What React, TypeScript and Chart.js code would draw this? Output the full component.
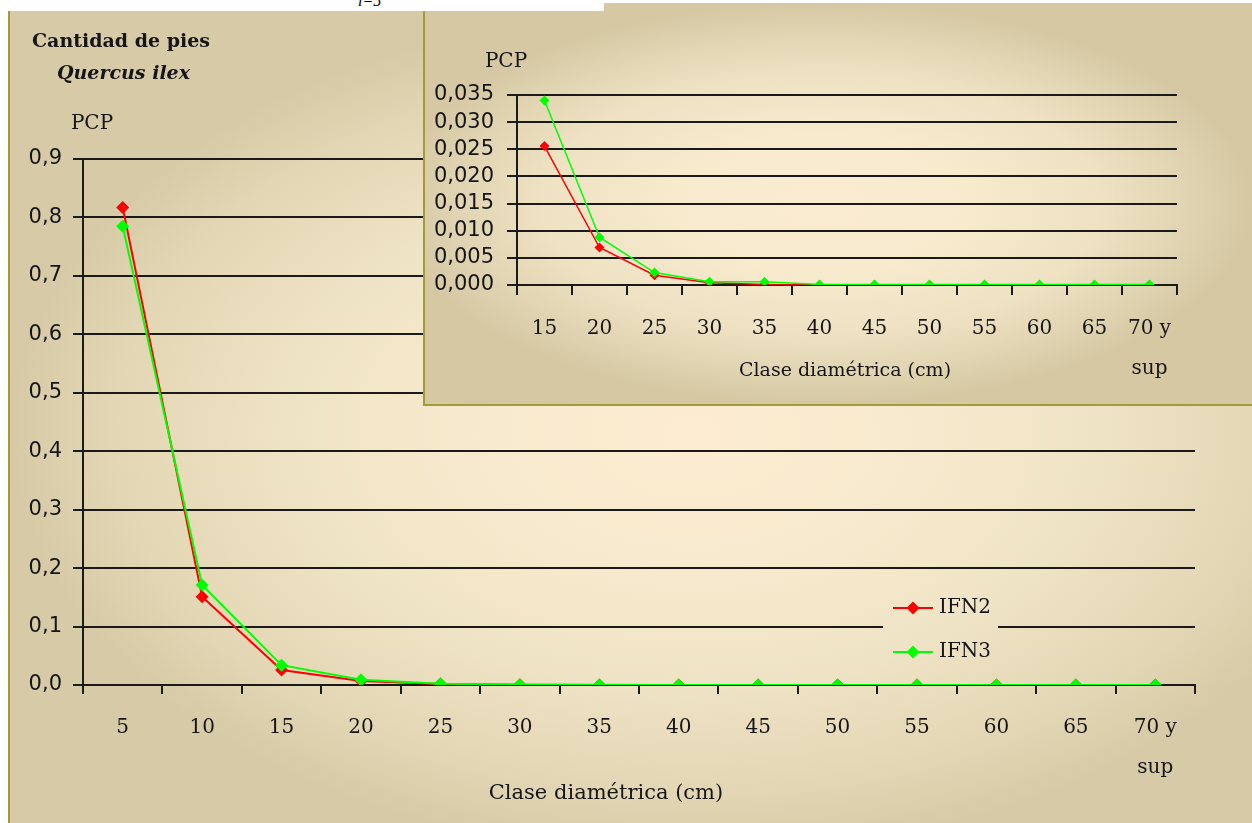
import React, { useEffect, useRef } from "react";
import { Chart, registerables } from "chart.js";

Chart.register(...registerables);

// ---------- data ----------
const categories: (string | string[])[] = [
  "5", "10", "15", "20", "25", "30", "35", "40", "45", "50", "55", "60", "65", ["70 y", "sup"],
];
const seriesNames = ["IFN2", "IFN3"];
const seriesColors = ["#ff0000", "#00ff00"];
const ifn2 = [0.817, 0.151, 0.0256, 0.0069, 0.0018, 0.0004, 0.0001, 0, 0, 0, 0, 0, 0, 0];
const ifn3 = [0.785, 0.171, 0.034, 0.0088, 0.0023, 0.0006, 0.0006, 0.0001, 0.0001, 0.0001, 0.0001, 0.0001, 0.0001, 0.0001];

// inset shows the classes from 15 cm upward
const insetStart = 2;
const insetCategories = categories.slice(insetStart);
const insetIfn2 = ifn2.slice(insetStart);
const insetIfn3 = ifn3.slice(insetStart);

const mainYTicks = [0, 0.1, 0.2, 0.3, 0.4, 0.5, 0.6, 0.7, 0.8, 0.9];
const mainYTickLabels = ["0,0", "0,1", "0,2", "0,3", "0,4", "0,5", "0,6", "0,7", "0,8", "0,9"];
const insetYTicks = [0, 0.005, 0.01, 0.015, 0.02, 0.025, 0.03, 0.035];
const insetYTickLabels = ["0,000", "0,005", "0,010", "0,015", "0,020", "0,025", "0,030", "0,035"];

const titleLine1 = "Cantidad de pies";
const titleLine2 = "Quercus ilex";
const yAxisTitle = "PCP";
const xAxisTitle = "Clase diamétrica (cm)";
const cutFormula = "i=5";

// ---------- styling helpers ----------
const SERIF = "'DejaVu Serif', serif";
const SANS = "'DejaVu Sans', sans-serif";
const INK = "#151515";
const GRID = "#1a1a1a";

type TextItem = { text: string; x: number; y: number; font: string; align: CanvasTextAlign };

function textPlugin(id: string, items: TextItem[]) {
  return {
    id,
    afterDraw(chart: any) {
      const ctx = chart.ctx as CanvasRenderingContext2D;
      ctx.save();
      ctx.fillStyle = INK;
      ctx.textBaseline = "middle";
      for (const it of items) {
        ctx.font = it.font;
        ctx.textAlign = it.align;
        ctx.fillText(it.text, it.x, it.y);
      }
      ctx.restore();
    },
  };
}

function legendPlugin(cfg: {
  box: { x: number; y: number; w: number; h: number };
  x0: number; y0: number; dy: number; len: number; r: number; gap: number; font: string;
}) {
  return {
    id: "boxLegend",
    afterDraw(chart: any) {
      const ctx = chart.ctx as CanvasRenderingContext2D;
      ctx.save();
      ctx.clearRect(cfg.box.x, cfg.box.y, cfg.box.w, cfg.box.h);
      chart.data.datasets.forEach((ds: any, i: number) => {
        const y = cfg.y0 + i * cfg.dy;
        ctx.strokeStyle = ds.borderColor;
        ctx.lineWidth = 2;
        ctx.beginPath();
        ctx.moveTo(cfg.x0, y);
        ctx.lineTo(cfg.x0 + cfg.len, y);
        ctx.stroke();
        const cx = cfg.x0 + cfg.len / 2;
        ctx.fillStyle = ds.borderColor;
        ctx.beginPath();
        ctx.moveTo(cx - cfg.r, y);
        ctx.lineTo(cx, y - cfg.r);
        ctx.lineTo(cx + cfg.r, y);
        ctx.lineTo(cx, y + cfg.r);
        ctx.closePath();
        ctx.fill();
        ctx.fillStyle = INK;
        ctx.font = cfg.font;
        ctx.textAlign = "left";
        ctx.textBaseline = "middle";
        ctx.fillText(ds.label, cfg.x0 + cfg.len + cfg.gap, y);
      });
      ctx.restore();
    },
  };
}

function makeDatasets(a: number[], b: number[], radius: number, width: number) {
  return [a, b].map((data, i) => ({
    label: seriesNames[i],
    data,
    borderColor: seriesColors[i],
    backgroundColor: seriesColors[i],
    borderWidth: width,
    pointStyle: "rectRot" as const,
    pointRadius: radius,
    pointBorderWidth: 0,
    pointBackgroundColor: seriesColors[i],
    tension: 0,
    order: i === 0 ? 1 : 0,
  }));
}

function makeOptions(p: {
  padTop: number; padRight: number; yWidth: number; xHeight: number;
  yTicks: number[]; yLabels: string[]; yPad: number; xPad: number; xTickLen: number;
}): any {
  return {
    animation: false,
    responsive: false,
    events: [],
    layout: { padding: { top: p.padTop, right: p.padRight, left: 0, bottom: 0 } },
    plugins: { legend: { display: false }, tooltip: { enabled: false }, title: { display: false } },
    scales: {
      x: {
        type: "category",
        offset: true,
        grid: {
          offset: true,
          drawOnChartArea: false,
          drawTicks: true,
          tickLength: p.xTickLen,
          color: GRID,
          lineWidth: 2,
        },
        border: { display: true, color: GRID, width: 2 },
        ticks: {
          color: INK,
          font: { family: SERIF, size: 20, lineHeight: 2 },
          padding: p.xPad,
          maxRotation: 0,
          autoSkip: false,
        },
        afterFit: (s: any) => { s.height = p.xHeight; },
      },
      y: {
        min: p.yTicks[0],
        max: p.yTicks[p.yTicks.length - 1],
        grid: { color: GRID, lineWidth: 2, drawTicks: true, tickLength: 10 },
        border: { display: true, color: GRID, width: 2 },
        afterBuildTicks: (s: any) => { s.ticks = p.yTicks.map((v) => ({ value: v })); },
        ticks: {
          color: INK,
          font: { family: SANS, size: 21 },
          padding: p.yPad,
          autoSkip: false,
          callback: (_v: any, i: number) => p.yLabels[i],
        },
        afterFit: (s: any) => { s.width = p.yWidth; },
      },
    },
  };
}

export default function App() {
  const mainRef = useRef<HTMLCanvasElement>(null);
  const insetRef = useRef<HTMLCanvasElement>(null);

  useEffect(() => {
    const main = new Chart(mainRef.current as HTMLCanvasElement, {
      type: "line",
      data: { labels: categories, datasets: makeDatasets(ifn2, ifn3, 6.5, 2) as any },
      options: makeOptions({
        padTop: 148, padRight: 57, yWidth: 73, xHeight: 138,
        yTicks: mainYTicks, yLabels: mainYTickLabels, yPad: 11, xPad: 14, xTickLen: 9,
      }),
      plugins: [
        textPlugin("mainTexts", [
          { text: titleLine1, x: 22, y: 31, font: `bold 19px ${SERIF}`, align: "left" },
          { text: titleLine2, x: 47, y: 63, font: `italic bold 19px ${SERIF}`, align: "left" },
          { text: yAxisTitle, x: 82, y: 113, font: `20px ${SERIF}`, align: "center" },
          { text: xAxisTitle, x: 596, y: 783, font: `21px ${SERIF}`, align: "center" },
        ]),
        legendPlugin({
          box: { x: 873, y: 579, w: 115, h: 78 },
          x0: 883, y0: 597, dy: 44, len: 40, r: 6.5, gap: 6, font: `20px ${SERIF}`,
        }),
      ],
    });

    const inset = new Chart(insetRef.current as HTMLCanvasElement, {
      type: "line",
      data: { labels: insetCategories, datasets: makeDatasets(insetIfn2, insetIfn3, 5, 1.5) as any },
      options: makeOptions({
        padTop: 92, padRight: 75, yWidth: 92, xHeight: 119,
        yTicks: insetYTicks, yLabels: insetYTickLabels, yPad: 13, xPad: 14, xTickLen: 10,
      }),
      plugins: [
        textPlugin("insetTexts", [
          { text: yAxisTitle, x: 81, y: 59, font: `20px ${SERIF}`, align: "center" },
          { text: xAxisTitle, x: 420, y: 368, font: `19px ${SERIF}`, align: "center" },
        ]),
      ],
    });

    return () => {
      main.destroy();
      inset.destroy();
    };
  }, []);

  return (
    <div
      style={{
        position: "fixed",
        left: 0,
        top: 0,
        width: 1252,
        height: 823,
        background: "#ffffff",
        overflow: "hidden",
      }}
    >
      <span
        style={{
          position: "absolute",
          left: 358,
          top: -8,
          font: `italic 16px 'Liberation Serif', serif`,
          color: "#000",
          lineHeight: "18px",
        }}
      >
        {cutFormula}
      </span>
      {/* main panel background */}
      <div
        style={{
          position: "absolute",
          left: 8,
          top: 11,
          width: 1244,
          height: 812,
          boxSizing: "border-box",
          borderLeft: "2px solid #a39a3c",
          background:
            "radial-gradient(ellipse farthest-side at 55% 52%, #fdecd1 0%, #f8eace 30%, #efe3c5 60%, #e2d6b4 85%, #d7caa6 100%)",
          backgroundColor: "#d6c8a3",
        }}
      />
      <canvas
        ref={mainRef}
        width={1242}
        height={812}
        style={{ position: "absolute", left: 10, top: 11, width: 1242, height: 812, display: "block" }}
      />
      {/* inset panel background */}
      <div
        style={{
          position: "absolute",
          left: 423,
          top: 3,
          width: 829,
          height: 403,
          boxSizing: "border-box",
          borderLeft: "2px solid #a39a3c",
          borderBottom: "2px solid #a39a3c",
          background:
            "radial-gradient(ellipse farthest-side at 48% 50%, #fbecd2 0%, #f7eacd 35%, #eee2c3 65%, #e0d4b2 85%, #d6c8a3 100%)",
          backgroundColor: "#d6c8a3",
        }}
      />
      <canvas
        ref={insetRef}
        width={827}
        height={401}
        style={{ position: "absolute", left: 425, top: 3, width: 827, height: 401, display: "block" }}
      />
      <div style={{ position: "absolute", left: 420, top: 0, width: 184, height: 11, background: "#ffffff" }} />
    </div>
  );
}
